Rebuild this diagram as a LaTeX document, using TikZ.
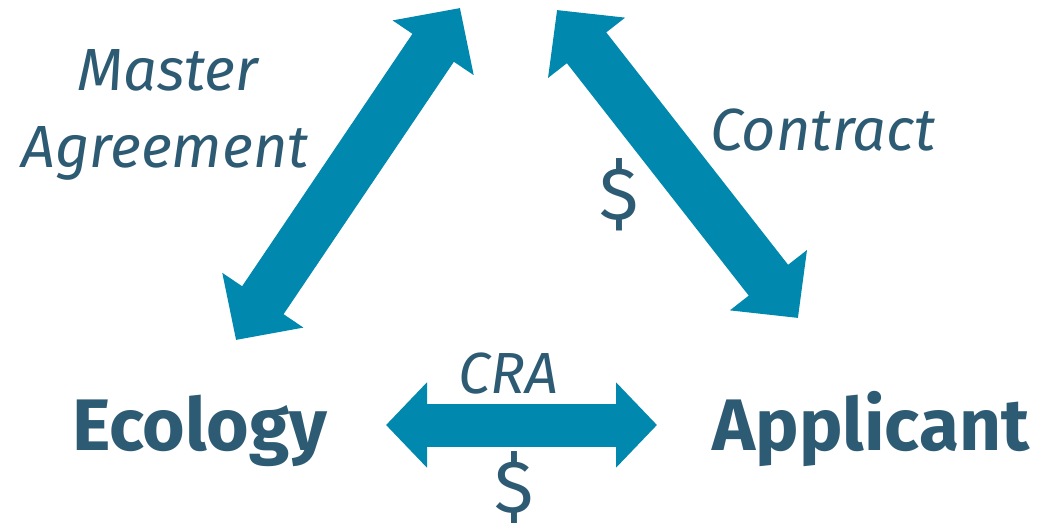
\documentclass[tikz,border=0pt]{standalone}
\usepackage{fontspec}
\setmainfont{Fira Sans}
\usetikzlibrary{arrows.meta}
\definecolor{arrowblue}{HTML}{0088AE}
\definecolor{textteal}{HTML}{2D5B73}
\begin{document}
\begin{tikzpicture}[x=1pt,y=-1pt,
  lbl/.style={text=textteal,inner sep=0pt,font=\fontsize{59.5}{66}\selectfont\itshape},
  party/.style={text=textteal,inner sep=0pt,font=\fontsize{73}{80}\selectfont\bfseries},
  money/.style={text=textteal,inner sep=0pt,font=\fontsize{74}{80}\selectfont},
  bigarrow/.style={draw=arrowblue,line width=50pt,
    {Triangle[length=48pt,width=95pt,fill=arrowblue]}-{Triangle[length=48pt,width=95pt,fill=arrowblue]}},
  flatarrow/.style={draw=arrowblue,line width=43pt,
    {Triangle[length=41pt,width=83pt,fill=arrowblue]}-{Triangle[length=41pt,width=83pt,fill=arrowblue]}}
]
\useasboundingbox (0,0) rectangle (1060,522);
\fill[white] (0,0) rectangle (1060,522);
% arrow tips
\coordinate (ltipA) at (236,340);
\coordinate (ltipB) at (460,8);
\coordinate (rtipA) at (557,10);
\coordinate (rtipB) at (798,318);
\coordinate (htipA) at (386,425);
\coordinate (htipB) at (657,425);
\draw[bigarrow] (ltipA) -- (ltipB);
\draw[bigarrow] (rtipA) -- (rtipB);
\draw[flatarrow] (htipA) -- (htipB);
% labels
\node[lbl,anchor=base] (master) at (168,90) {Master};
\node[lbl,anchor=base] (agreement) at (165,167) {Agreement};
\node[lbl,anchor=base] (contract) at (823,150) {Contract};
\node[money] (dollarR) at (619,195) {\$};
\node[lbl,anchor=base,font=\fontsize{58}{64}\selectfont\itshape] (cra) at (508,393) {CRA};
\node[money] (dollarB) at (514,488) {\$};
\node[party,anchor=base] (ecology) at (200,450) {Ecology};
\node[party,anchor=base] (applicant) at (871,450) {Applicant};
\end{tikzpicture}
\end{document}
